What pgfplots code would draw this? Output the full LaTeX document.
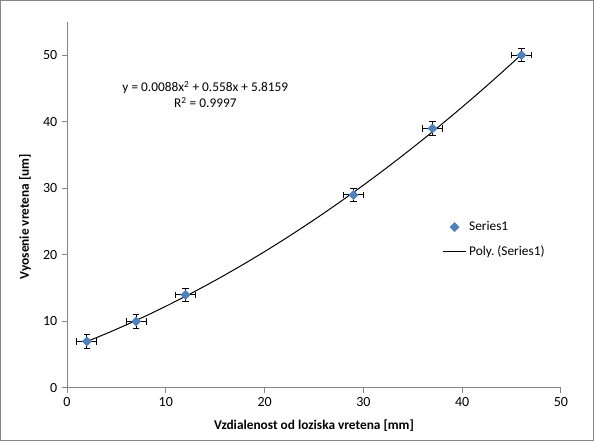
\documentclass[border=0pt]{standalone}
\usepackage{pgfplots}
\pgfplotsset{compat=1.18}
\usepackage{fontspec}
\setmainfont{Carlito}
\frenchspacing
\definecolor{serblue}{HTML}{4F81BD}
\definecolor{axgray}{HTML}{868686}
\begin{document}
\begin{tikzpicture}[x=1pt,y=1pt]
\begin{axis}[
  at={(0,0)}, anchor=origin,
  scale only axis,
  width=370.5pt, height=274.5pt,
  xmin=0, xmax=50, ymin=0, ymax=55,
  axis lines*=left,
  axis line style={draw=axgray, line width=0.75pt},
  tick style={draw=axgray, line width=0.75pt},
  tick align=outside,
  major tick length=3.75pt,
  xtick={0,10,20,30,40,50},
  ytick={0,10,20,30,40,50},
  ticklabel style={font=\fontsize{10.5}{12}\selectfont},
  /pgf/number format/assume math mode=true,
  legend style={draw=none, fill=none, at={(axis description cs:0.752,0.47)}, anchor=north west,
    font=\fontsize{10}{12}\selectfont, row sep=6pt},
  legend cell align=left,
  clip=false,
]
\addplot[only marks, mark=square*, mark size=2.4pt, mark options={rotate=45, fill=serblue, draw=serblue},
  error bars/.cd, x dir=both, x explicit, y dir=both, y explicit,
  error mark=|,
  error bar style={black, line width=0.75pt},
  error mark options={black, mark size=2.4pt, line width=0.75pt}]
  coordinates {
  (2,7) +- (1,1)
  (7,10) +- (1,1)
  (12,14) +- (1,1)
  (29,29) +- (1,1)
  (37,39) +- (1,1)
  (46,50) +- (1,1)
  };
\addlegendentry{Series1}
\addplot[black, line width=0.75pt, smooth] coordinates {
(2,6.9671)(4,8.1887)(6,9.4807)(8,10.8431)(10,12.2759)(12,13.7791)(14,15.3527)(16,16.9967)
(18,18.7111)(20,20.4959)(22,22.3511)(24,24.2767)(26,26.2727)(28,28.3391)(30,30.4759)
(32,32.6831)(34,34.9607)(36,37.3087)(38,39.7271)(40,42.2159)(42,44.7751)(44,47.4047)(46,50.1047)
};
\addlegendentry{Poly. (Series1)}
\node[align=center, font=\fontsize{10}{12}\selectfont] at (axis cs:14,44.1)
  {y = 0.0088x\textsuperscript{2} + 0.558x + 5.8159\\R\textsuperscript{2} = 0.9997};
\node[font=\bfseries\fontsize{10}{12}\selectfont] at ([yshift=-28.5pt]axis description cs:0.5,0)
  {Vzdialenost od loziska vretena [mm]};
\node[font=\bfseries\fontsize{10}{12}\selectfont, rotate=90] at ([xshift=-31.5pt]axis description cs:0,0.468)
  {Vyosenie vretena [um]};
\end{axis}
\draw[axgray, line width=0.75pt] (-49.9pt,-39.4pt) rectangle (394.9pt,290.6pt);
\useasboundingbox (-50.25pt,-39.75pt) rectangle (395.25pt,291pt);
\end{tikzpicture}
\end{document}
